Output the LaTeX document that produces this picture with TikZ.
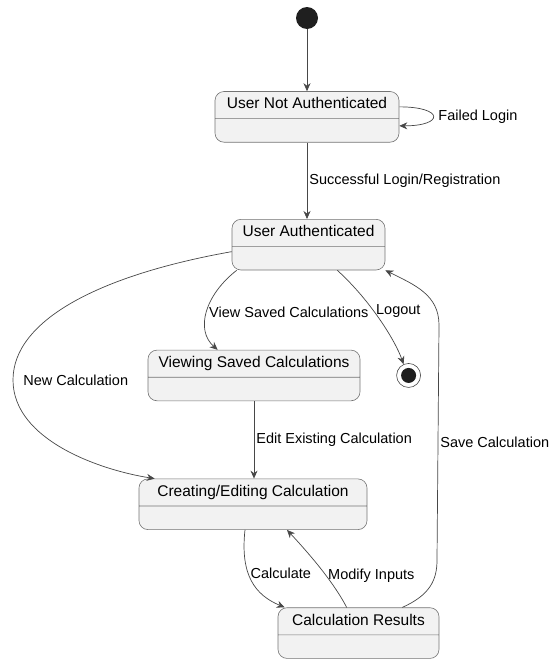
\documentclass[tikz,border=0pt]{standalone}
\usepackage{fontspec}
\setmainfont{Liberation Sans}
\usetikzlibrary{arrows.meta, positioning, shapes.multipart}
\colorlet{statefill}{black!5}
\colorlet{stateline}{black!55}
\colorlet{edgegray}{black!72}
\colorlet{dotblack}{black!88}

\begin{document}
\begin{tikzpicture}[
    x=1pt, y=-1pt,
    state/.style={
        rectangle split, rectangle split parts=2,
        rounded corners=9pt, draw=stateline, fill=statefill,
        line width=0.6pt, inner ysep=6pt,
        text height=11pt, text depth=3.5pt,
        font=\fontsize{15.5}{18}\selectfont
    },
    initst/.style={
        circle, fill=dotblack, minimum size=22pt, inner sep=0pt
    },
    finalst/.style={
        circle, draw=edgegray, fill=white, line width=0.6pt,
        minimum size=24pt, inner sep=0pt,
        path picture={\fill[dotblack] (path picture bounding box.center) circle (7.5pt);}
    },
    arrow/.style={
        line width=0.7pt, -{Stealth[length=8pt, width=7pt]},
        draw=edgegray
    },
    lbl/.style={
        font=\fontsize{14.5}{17}\selectfont, inner sep=2pt
    }
]
\useasboundingbox (0,0) rectangle (551,667);

% ===== Nodes =====
\node[initst] (init) at (307,18) {};

\node[state, minimum width=184pt, below=62pt of init]                   (una) {User Not Authenticated \nodepart{two} \rule{0pt}{11pt}};
\node[state, minimum width=153pt, below=76.5pt of una, xshift=1.5pt]    (ua)  {User Authenticated \nodepart{two} \rule{0pt}{11pt}};
\node[state, minimum width=212pt, below=79.5pt of ua, xshift=-54.5pt]   (vsc) {Viewing Saved Calculations \nodepart{two} \rule{0pt}{11pt}};
\node[state, minimum width=228pt, below=77.5pt of vsc, xshift=-1pt]     (cec) {Creating/Editing Calculation \nodepart{two} \rule{0pt}{11pt}};
\node[state, minimum width=161pt, below=77.5pt of cec, xshift=105.5pt]  (cr)  {Calculation Results \nodepart{two} \rule{0pt}{11pt}};

\node[finalst, right=36pt of vsc] (fin) {};

% ===== Transitions =====
\draw[arrow] (init) -- (una);
\draw[arrow] ([yshift=10pt]una.east)
    .. controls ([xshift=45pt,yshift=10pt]una.east) and ([xshift=45pt,yshift=-9pt]una.east)
    .. node[lbl, right=3pt] {Failed Login} ([yshift=-9pt]una.east);
\draw[arrow] (una.south) -- node[lbl, right] {Successful Login/Registration} (una.south |- ua.north);

\draw[arrow] ([yshift=-7pt]ua.west)
    .. controls (100,275) and (13,320) .. (13,380) node[lbl, right=8pt] {New Calculation}
    .. controls (13,440) and (100,470) .. ([xshift=16pt]cec.north west);
\draw[arrow] ([xshift=5pt]ua.south west)
    .. controls (205,295) and (195,330) .. node[lbl, right] {View Saved Calculations} ([xshift=70pt]vsc.north west);
\draw[arrow] ([xshift=-48pt]ua.south east)
    .. controls (370,300) and (395,340) .. node[lbl, right, pos=0.42] {Logout} (fin.114);

\draw[arrow] (vsc.south) -- node[lbl, right] {Edit Existing Calculation} (vsc.south |- cec.north);

\draw[arrow] ([xshift=-8pt]cec.south)
    .. controls (240,575) and (255,595) .. node[lbl, right, pos=0.4] {Calculate} ([xshift=7pt]cr.north west);
\draw[arrow] ([xshift=69pt]cr.north west)
    .. controls (335,585) and (315,560) .. node[lbl, right, pos=0.45] {Modify Inputs} ([xshift=34pt]cec.south);
\draw[arrow] ([xshift=-37pt]cr.north east)
    .. controls (430,595) and (437,580) .. (437,560)
    -- node[lbl, right] {Save Calculation} (439,325)
    .. controls (439,295) and (415,285) .. (ua.south east);

\end{tikzpicture}
\end{document}
